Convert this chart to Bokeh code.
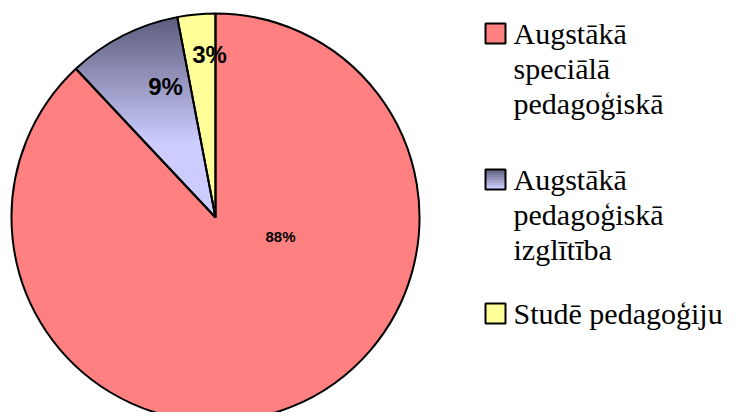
import math
from bokeh.plotting import figure
from bokeh.models import ColumnDataSource
from bokeh.core.properties import value
from bokeh.embed import file_html
from bokeh.resources import INLINE

# ---- data ----
categories = ["Augstākā speciālā pedagoģiskā", "Augstākā pedagoģiskā izglītība", "Studē pedagoģiju"]
legend_lines = [["Augstākā", "speciālā", "pedagoģiskā"],
                ["Augstākā", "pedagoģiskā", "izglītība"],
                ["Studē pedagoģiju"]]
shares = [88, 9, 3]
pct_labels = ["88%", "9%", "3%"]
colors = ["#FF8080", "#CCCCFF", "#FFFF99"]

# ---- layout (pixels, figure coordinates with y up) ----
W, H = 728, 412
def fy(page_y):
    return H - page_y
def fx(page_x):
    return page_x

cx, cy = fx(215), fy(217)
R = 204

p = figure(width=W, height=H, x_range=(0, W), y_range=(0, H),
           output_backend="svg", toolbar_location=None,
           x_axis_location=None, y_axis_location=None, min_border=0)
p.grid.visible = False
p.outline_line_color = None

total = float(sum(shares))
cum = [0.0]
for s in shares:
    cum.append(cum[-1] + s / total)
starts = [math.pi / 2 - c * 2 * math.pi for c in cum[:-1]]
ends = [math.pi / 2 - c * 2 * math.pi for c in cum[1:]]

fills = [colors[0], None, colors[2]]
src = ColumnDataSource(dict(start=starts, end=ends,
                            fill=[c if c else "#CCCCFF" for c in fills],
                            alpha=[1 if c else 0 for c in fills]))
p.wedge(x=cx, y=cy, radius=R, start_angle="start", end_angle="end", direction="clock",
        fill_color="fill", fill_alpha="alpha", line_color=None, source=src)

def clip(poly, lo, hi):
    def clip_edge(pts, keep, inter):
        out = []
        n = len(pts)
        for i in range(n):
            a, b = pts[i], pts[(i + 1) % n]
            ka, kb = keep(a), keep(b)
            if ka:
                out.append(a)
                if not kb:
                    out.append(inter(a, b))
            elif kb:
                out.append(inter(a, b))
        return out
    def inter_y(yv):
        def f(a, b):
            t = (yv - a[1]) / (b[1] - a[1])
            return (a[0] + t * (b[0] - a[0]), yv)
        return f
    pts = clip_edge(poly, lambda q: q[1] >= lo, inter_y(lo))
    if not pts:
        return []
    return clip_edge(pts, lambda q: q[1] <= hi, inter_y(hi))

def grad_color(t):
    top = (0x5C, 0x5C, 0x7C)
    bot = (0xCC, 0xCC, 0xFF)
    t = max(0.0, min(1.0, t))
    c = [int(round(top[k] + (bot[k] - top[k]) * t)) for k in range(3)]
    return "#%02x%02x%02x" % tuple(c)

a0, a1 = starts[1], ends[1]
poly = [(cx, cy)]
N = 60
for i in range(N + 1):
    a = a0 + (a1 - a0) * i / N
    poly.append((cx + R * math.cos(a), cy + R * math.sin(a)))
ytop = max(q[1] for q in poly)
ybot = min(q[1] for q in poly)
xs, ys, fc = [], [], []
step = 2.0
yv = ybot
while yv < ytop:
    pts = clip(poly, yv, yv + step)
    if len(pts) >= 3:
        xs.append([q[0] for q in pts])
        ys.append([q[1] for q in pts])
        t = (ytop - (yv + step / 2)) / 125.0
        fc.append(grad_color(t))
    yv += step
p.patches(xs=xs, ys=ys, fill_color=fc, line_color=fc, line_width=1)

p.wedge(x=cx, y=cy, radius=R, start_angle=starts, end_angle=ends, direction="clock",
        fill_alpha=0, line_color="black", line_width=2)

lab_dx = [65, -50, -6]
lab_dy = [-19, 131, 163]
lab_size = ["15px", "24px", "24px"]
p.text(x=[cx + d for d in lab_dx], y=[cy + d for d in lab_dy], text=pct_labels,
       text_font=value("Liberation Sans"), text_font_style="bold",
       text_font_size=lab_size, text_align="center", text_baseline="middle",
       text_color="black")

# legend
sq = 20
sq_x = fx(495)
text_x = fx(513)
FS = 30
first_baselines = [43, 189, 323]
line_gap = 35
serif = value("Liberation Serif, Times New Roman, serif")
for i, lines in enumerate(legend_lines):
    b = fy(first_baselines[i])
    if i == 1:
        n = 10
        for k in range(n):
            yk = b + sq - (k + 0.5) * sq / n
            p.rect(x=[sq_x], y=[yk], width=sq, height=sq / n + 0.3,
                   fill_color=grad_color(k / (n - 1)), line_color=None)
        p.rect(x=[sq_x], y=[b + sq / 2], width=sq, height=sq, fill_alpha=0,
               line_color="black", line_width=2)
    else:
        p.rect(x=[sq_x], y=[b + sq / 2], width=sq, height=sq, fill_color=colors[i],
               line_color="black", line_width=2)
    p.text(x=[text_x] * len(lines),
           y=[b - j * line_gap + 0.33 * FS for j in range(len(lines))],
           text=lines, text_font=serif, text_font_size=f"{FS}px",
           text_baseline="middle", text_align="left", text_color="black")

open("out.html", "w").write(file_html(p, INLINE))
